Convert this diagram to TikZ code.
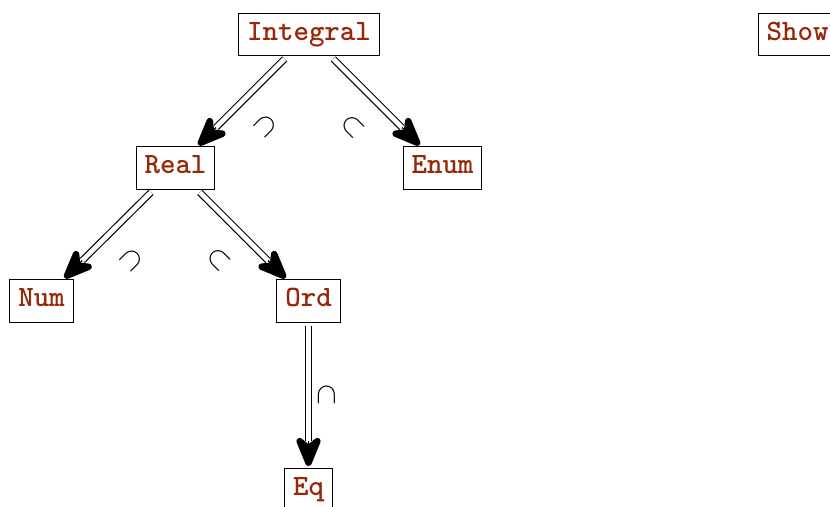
\documentclass[tikz,border=0pt]{standalone}
\usetikzlibrary{arrows.meta}
\definecolor{clsred}{RGB}{150,40,10}
\begin{document}
\begin{tikzpicture}[x=0.339pt,y=-0.339pt,
  cls/.style={draw=black, line width=0.4pt, text=clsred, font=\ttfamily\bfseries,
    inner xsep=2.85pt, inner ysep=3.2pt, text height=6pt, text depth=2pt},
  subtip/.style={line width=0.4pt,
    -{Stealth[length=13.5pt,width=11pt,inset=4.3pt,round,line width=2.2pt]},
    shorten <=1.2pt, shorten >=0.6pt},
  subshaft/.style={double, double distance=1.6pt, line width=0.4pt,
    shorten <=1.2pt, shorten >=9pt},
  sublbl/.style={inner sep=0pt}]
\useasboundingbox (0,0) rectangle (830,506);
\node[cls] (integral) at (309,34.5) {Integral};
\node[cls] (show) at (797.5,34.5) {Show};
\node[cls] (real) at (175.5,168) {Real};
\node[cls] (enum) at (442.5,168) {Enum};
\node[cls] (num) at (41.5,301) {Num};
\node[cls] (ord) at (308.5,301) {Ord};
\node[cls] (eq) at (308.5,489.5) {Eq};
\draw[subtip] (integral) -- (real);
\draw[subshaft] (integral) -- node[sublbl, pos=0.5, shift={(23,25)}, rotate=-135] {$\subset$} (real);
\draw[subtip] (integral) -- (enum);
\draw[subshaft] (integral) -- node[sublbl, pos=0.5, shift={(-23,25)}, rotate=-45] {$\subset$} (enum);
\draw[subtip] (real) -- (num);
\draw[subshaft] (real) -- node[sublbl, pos=0.5, shift={(23,25)}, rotate=-135] {$\subset$} (num);
\draw[subtip] (real) -- (ord);
\draw[subshaft] (real) -- node[sublbl, pos=0.5, shift={(-23,25)}, rotate=-45] {$\subset$} (ord);
\draw[subtip] (ord) -- (eq);
\draw[subshaft] (ord) -- node[sublbl, pos=0.5, shift={(18,0)}, rotate=-90] {$\subset$} (eq);
\end{tikzpicture}
\end{document}
